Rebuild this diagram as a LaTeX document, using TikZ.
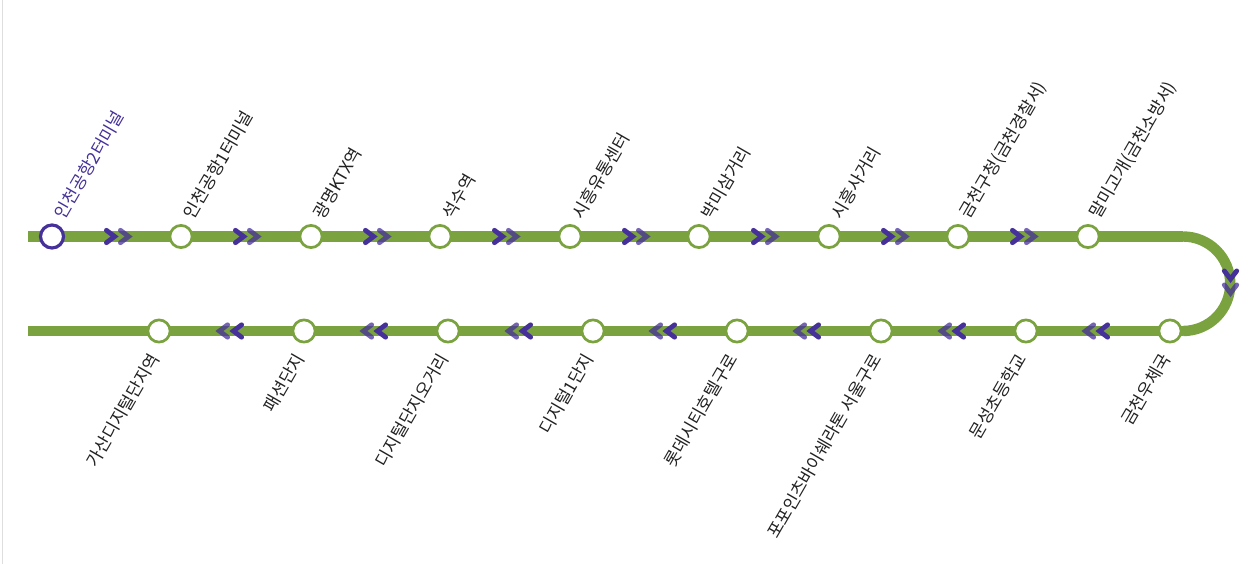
\documentclass[tikz,border=0pt]{standalone}
\usepackage{fontspec}
\setmainfont{Noto Sans CJK KR}[Scale=1]
\definecolor{trackgreen}{HTML}{7AA23F}
\definecolor{linepurple}{HTML}{46309A}
\definecolor{labelink}{HTML}{222222}
\tikzset{
  x=1pt,y=-1pt,
  trackline/.style={draw=trackgreen,line width=10.5pt},
  station/.style={circle,draw=trackgreen,fill=white,line width=2.7pt,minimum size=22.2pt,inner sep=0pt,outer sep=0pt},
  firststation/.style={station,draw=linepurple,line width=3.2pt,minimum size=23pt},
  uplabel/.style={anchor=west,rotate=60,inner sep=0pt,text=labelink,font=\fontsize{17.2pt}{19pt}\selectfont},
  downlabel/.style={anchor=east,rotate=60,inner sep=0pt,text=labelink,font=\fontsize{17.2pt}{19pt}\selectfont},
  chevdark/.style={draw=linepurple,line width=4.8pt,line cap=round,miter limit=10},
  chevlight/.style={chevdark,draw opacity=.75},
  pics/chevron/.style={code={\draw[#1] (-4.6,-6.2) -- (3.6,0) -- (-4.6,6.2);}}
}
\begin{document}
\begin{tikzpicture}
\useasboundingbox (0,0) rectangle (1258,564);
\draw[draw=black!13,line width=1pt] (2.5,0) -- (2.5,564);
% track
\coordinate (topstart) at (28,236.5);
\coordinate (topend) at (1183,236.5);
\coordinate (botstart) at (28,331);
\coordinate (botend) at (1183,331);
\draw[trackline,line width=11.4pt] (topstart) -- (topend);
\draw[trackline,line width=10.4pt] (botstart) -- (botend);
\draw[trackline,line width=10.4pt] (topend) .. controls (1209.1,236.5) and (1230.25,257.65) .. (1230.25,283.75) .. controls (1230.25,309.85) and (1209.1,331) .. (botend);
% chevrons
\foreach \x in {111,240,370,499,629,758,888,1017}{
  \pic at (\x,236.5) {chevron=chevdark};
  \pic at (\x+14,236.5) {chevron=chevlight};
}
\foreach \x in {237,381,526,670,814,959,1103}{
  \pic[rotate=180] at (\x,331) {chevron=chevdark};
  \pic[rotate=180] at (\x-14,331) {chevron=chevlight};
}
\pic[rotate=-90] at (1230.5,275.5) {chevron=chevdark};
\pic[rotate=-90] at (1230.5,289.5) {chevron=chevlight};
% stations, top row
\node[firststation] (s1) at (52,236.5) {};
\node[station] (s2) at (181,236.5) {};
\node[station] (s3) at (311,236.5) {};
\node[station] (s4) at (440,236.5) {};
\node[station] (s5) at (570,236.5) {};
\node[station] (s6) at (699,236.5) {};
\node[station] (s7) at (829,236.5) {};
\node[station] (s8) at (958,236.5) {};
\node[station] (s9) at (1088,236.5) {};
% stations, bottom row
\node[station] (s10) at (1170,331) {};
\node[station] (s11) at (1026,331) {};
\node[station] (s12) at (881,331) {};
\node[station] (s13) at (737,331) {};
\node[station] (s14) at (593,331) {};
\node[station] (s15) at (448,331) {};
\node[station] (s16) at (304,331) {};
\node[station] (s17) at (159,331) {};
% labels
\node[uplabel,text=linepurple] (l1) at (59,217) {인천공항2터미널};
\node[uplabel] (l2) at (188,217) {인천공항1터미널};
\node[uplabel] (l3) at (318,217) {광명KTX역};
\node[uplabel] (l4) at (447,217) {석수역};
\node[uplabel] (l5) at (577,217) {시흥유통센터};
\node[uplabel] (l6) at (706,217) {박미삼거리};
\node[uplabel] (l7) at (836,217) {시흥사거리};
\node[uplabel] (l8) at (965,217) {금천구청(금천경찰서)};
\node[uplabel] (l9) at (1095,217) {말미고개(금천소방서)};
\node[downlabel] (l10) at (1165.5,355) {금천우체국};
\node[downlabel] (l11) at (1021.5,355) {문성초등학교};
\node[downlabel] (l12) at (876.5,355) {포포인츠바이쉐라톤 서울구로};
\node[downlabel] (l13) at (732.5,355) {롯데시티호텔구로};
\node[downlabel] (l14) at (588.5,355) {디지털1단지};
\node[downlabel] (l15) at (443.5,355) {디지털단지오거리};
\node[downlabel] (l16) at (299.5,355) {패션단지};
\node[downlabel] (l17) at (154.5,355) {가산디지털단지역};
\end{tikzpicture}
\end{document}
